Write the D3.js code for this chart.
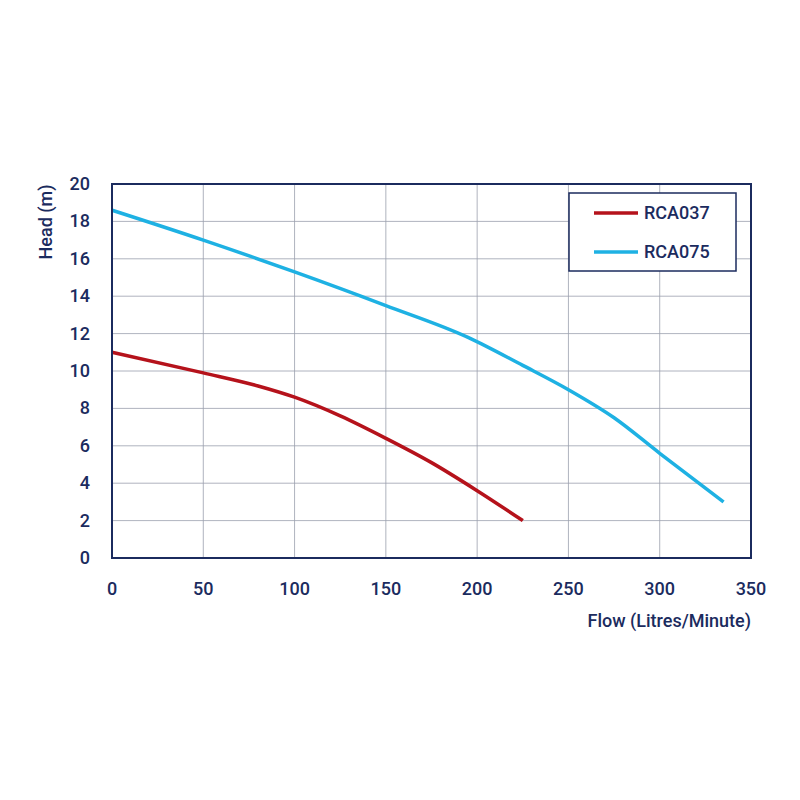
<!DOCTYPE html><html><head><script src="https://cdn.jsdelivr.net/npm/d3@7"></script>
<style>body{margin:0;background:#fff}text{font-family:Roboto,sans-serif;font-weight:500;fill:#1b2b5e}</style></head><body>
<svg width="800" height="800"></svg>
<script>
const xTicks=[0,50,100,150,200,250,300,350];
const yTicks=[0,2,4,6,8,10,12,14,16,18,20];
const redFlow=[0,50,80,100,125,150,175,200,225];
const redHead=[11,9.9,9.2,8.6,7.6,6.4,5.1,3.6,2.0];
const blueFlow=[0,50,100,150,195,225,250,275,300,335];
const blueHead=[18.6,17.0,15.3,13.5,11.8,10.3,9.0,7.5,5.6,3.0];
const series=[{name:"RCA037",color:"#b5121b",f:redFlow,h:redHead},{name:"RCA075",color:"#1eb1e3",f:blueFlow,h:blueHead}];
const svg=d3.select("svg"),navy="#1b2b5e";
const x=d3.scaleLinear().domain([0,350]).range([112,751]);
const y=d3.scaleLinear().domain([0,20]).range([558,184]);
const g=svg.append("g");
g.selectAll(".vx").data(xTicks).join("line").attr("x1",d=>x(d)).attr("x2",d=>x(d)).attr("y1",184).attr("y2",558).attr("stroke","#9aa0ad").attr("stroke-width",0.8);
g.selectAll(".hy").data(yTicks).join("line").attr("y1",d=>y(d)).attr("y2",d=>y(d)).attr("x1",112).attr("x2",751).attr("stroke","#9aa0ad").attr("stroke-width",0.8);
const line=d3.line().curve(d3.curveMonotoneX);
series.forEach(s=>{svg.append("path").attr("d",line(s.f.map((v,i)=>[x(v),y(s.h[i])]))).attr("fill","none").attr("stroke",s.color).attr("stroke-width",3.5);});
svg.append("rect").attr("x",112).attr("y",184).attr("width",639).attr("height",374).attr("fill","none").attr("stroke",navy).attr("stroke-width",2);
svg.selectAll(".xl").data(xTicks).join("text").attr("x",d=>x(d)).attr("y",595).attr("text-anchor","middle").attr("font-size",18).text(d=>d);
svg.selectAll(".yl").data(yTicks).join("text").attr("x",90).attr("y",d=>y(d)+6).attr("text-anchor","end").attr("font-size",18).text(d=>d);
svg.append("text").attr("x",751).attr("y",627).attr("text-anchor","end").attr("font-size",18).text("Flow (Litres/Minute)");
svg.append("text").attr("transform","translate(52,222) rotate(-90)").attr("text-anchor","middle").attr("font-size",18).text("Head (m)");
svg.append("rect").attr("x",569).attr("y",193).attr("width",167).attr("height",78).attr("fill","#fff").attr("stroke",navy).attr("stroke-width",1.5);
series.forEach((s,i)=>{const yy=213+i*39;
svg.append("line").attr("x1",594).attr("x2",638).attr("y1",yy).attr("y2",yy).attr("stroke",s.color).attr("stroke-width",3.5);
svg.append("text").attr("x",644).attr("y",yy+6).attr("font-size",18).text(s.name);});
</script></body></html>
